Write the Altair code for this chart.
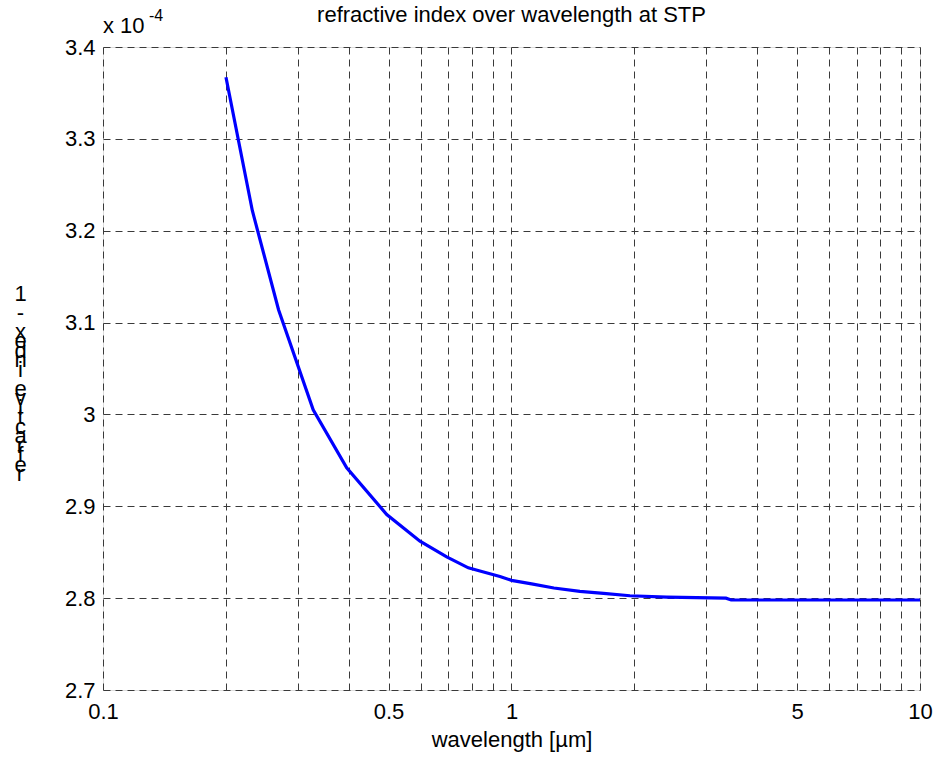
import altair as alt
import pandas as pd

# wavelength in micrometres, (refractive index - 1) in units of 1e-4
wavelength = [0.2, 0.232, 0.269, 0.327, 0.395, 0.495, 0.597, 0.694, 0.784, 0.837,
              0.937, 1.0, 1.12, 1.27, 1.47, 1.68, 1.95, 2.4, 3.35, 3.45, 10.0]
n_minus_1 = [3.367, 3.222, 3.114, 3.005, 2.942, 2.891, 2.862, 2.845, 2.833, 2.8295,
             2.8236, 2.8194, 2.8155, 2.811, 2.8073, 2.8051, 2.8026, 2.8012, 2.800, 2.798, 2.798]

x_grid = [0.1, 0.2, 0.3, 0.4, 0.5, 0.6, 0.7, 0.8, 0.9,
          1, 2, 3, 4, 5, 6, 7, 8, 9, 10]
x_labelled = [0.1, 0.5, 1, 5, 10]
y_grid = [2.7, 2.8, 2.9, 3.0, 3.1, 3.2, 3.3, 3.4]

title_text = "refractive index over wavelength at STP"
x_title = "wavelength [µm]"
y_title = "refractive index - 1"
exp_base = "x 10"
exp_power = "-4"

FONT = "Liberation Sans"
FS = 22
W, H = 817, 643

df = pd.DataFrame({"wl": wavelength, "n": n_minus_1})

# MATLAB-style garbled vertical label: upright characters stacked, reversed.
# Blank lines use a zero-width space so that they keep their height.
y_title_lines = [c if c != " " else "\u200b" for c in reversed(y_title)]

label_expr = "indexof(" + str(x_labelled) + ", datum.value) >= 0 ? datum.label : ''"

GRID = "#3a3a3a"

line = alt.Chart(df).mark_line(color="#0000ff", strokeWidth=3.2).encode(
    x=alt.X("wl:Q",
            scale=alt.Scale(type="log", domain=[0.1, 10], nice=False),
            axis=alt.Axis(values=x_grid, format="~g", labelExpr=label_expr,
                          ticks=False, tickSize=0, domain=False,
                          grid=True, gridDash=[7, 5], gridColor=GRID,
                          gridWidth=1, labelFont=FONT, labelFontSize=FS,
                          labelColor="black", labelBaseline="alphabetic",
                          labelPadding=28, labelFlush=False, labelOverlap=False,
                          title=x_title, titleFont=FONT, titleFontSize=FS,
                          titleFontWeight="normal", titleColor="black",
                          titleBaseline="alphabetic", titleY=56)),
    y=alt.Y("n:Q",
            scale=alt.Scale(domain=[2.7, 3.4], nice=False, zero=False),
            axis=alt.Axis(values=y_grid, format="~g",
                          ticks=False, tickSize=0, domain=False,
                          grid=True, gridDash=[7, 5], gridColor=GRID,
                          gridWidth=1, labelFont=FONT, labelFontSize=FS,
                          labelColor="black", labelPadding=8,
                          labelFlush=False, labelOverlap=False,
                          title=y_title_lines, titleAngle=0, titleFont=FONT,
                          titleFontSize=FS, titleFontWeight="normal",
                          titleColor="black", titleAlign="center",
                          titleBaseline="alphabetic", titleLineHeight=9.5,
                          titleX=-83, titleY=253)),
)

title_txt = alt.Chart(pd.DataFrame({"t": [title_text]})).mark_text(
    align="center", baseline="alphabetic", font=FONT, fontSize=FS, color="black"
).encode(text="t:N", x=alt.value(W / 2), y=alt.value(-25))

base_txt = alt.Chart(pd.DataFrame({"t": [exp_base]})).mark_text(
    align="left", baseline="alphabetic", font=FONT, fontSize=FS, color="black"
).encode(text="t:N", x=alt.value(0), y=alt.value(-14))

pow_txt = alt.Chart(pd.DataFrame({"t": [exp_power]})).mark_text(
    align="left", baseline="alphabetic", font=FONT, fontSize=16, color="black"
).encode(text="t:N", x=alt.value(46), y=alt.value(-26))

chart = alt.layer(line, title_txt, base_txt, pow_txt).properties(
    width=W, height=H,
    autosize=alt.AutoSizeParams(type="none"),
    padding={"left": 103, "top": 47, "right": 16, "bottom": 69},
).configure_view(stroke="black", strokeWidth=1).configure(background="white")

chart.save("out.html", embed_options={"renderer": "svg", "actions": False})
